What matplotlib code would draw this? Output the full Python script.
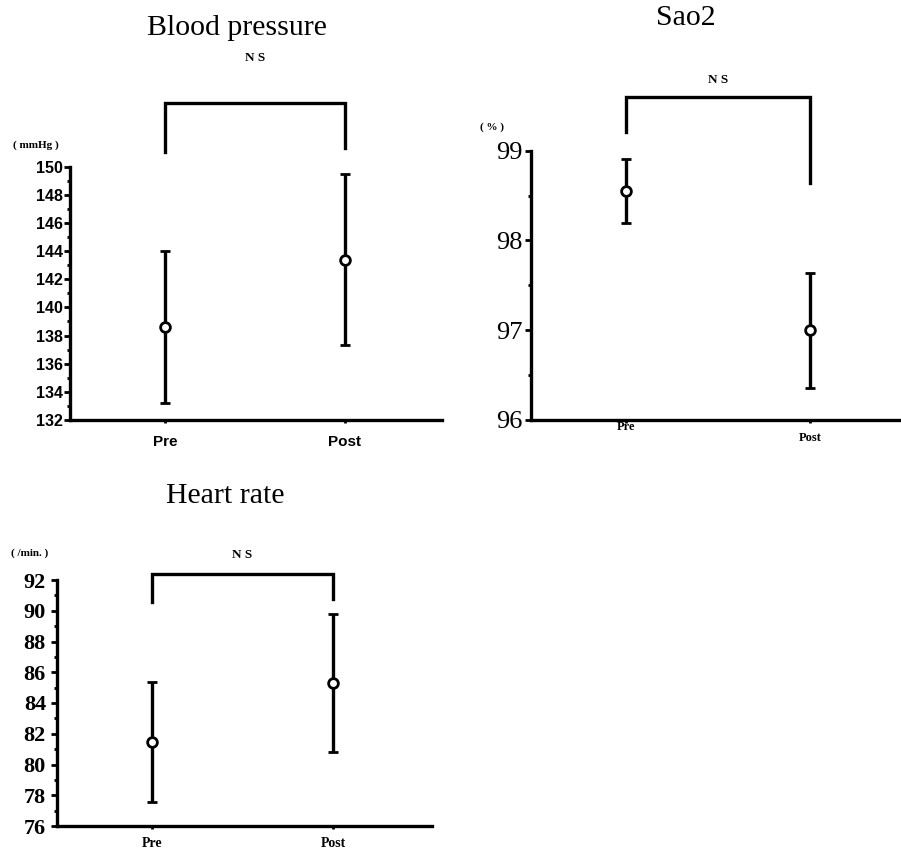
import matplotlib
matplotlib.use("Agg")
import matplotlib.pyplot as plt
import numpy as np
from matplotlib.transforms import blended_transform_factory

# ---- data ----
groups = ["Pre", "Post"]

bp_mean = [138.6, 143.4]
bp_err = [5.4, 6.1]
bp_ticks = [132, 134, 136, 138, 140, 142, 144, 146, 148, 150]

sao2_mean = [98.55, 97.0]
sao2_err = [0.36, 0.64]
sao2_ticks = [96, 97, 98, 99]

hr_mean = [81.45, 85.3]
hr_err = [3.9, 4.5]
hr_ticks = [76, 78, 80, 82, 84, 86, 88, 90, 92]

fig = plt.figure(figsize=(9.01, 8.52), dpi=100)
W, H = 901, 852

def add_axes(l, r, t, b):
    return fig.add_axes([l / W, 1 - b / H, (r - l) / W, (b - t) / H])

SERIF = "Liberation Serif"
SANS = "Liberation Sans"
LW = 2.4

def style(ax, ylim, xlim, ticks, minor_step):
    ax.set_ylim(*ylim)
    ax.set_xlim(*xlim)
    for s in ["top", "right"]:
        ax.spines[s].set_visible(False)
    for s in ["left", "bottom"]:
        ax.spines[s].set_linewidth(LW)
    ax.set_yticks(ticks)
    ax.set_yticks(np.arange(ylim[0], ylim[1] + 1e-9, minor_step), minor=True)
    ax.tick_params(axis="y", which="major", direction="out", length=4, width=2)
    ax.tick_params(axis="y", which="minor", direction="out", length=2.5, width=2)
    ax.set_xticks([0, 1])
    ax.tick_params(axis="x", which="major", direction="out", length=2, width=2)

def draw(ax, mean, err):
    ax.errorbar([0, 1], mean, yerr=err, fmt="o", color="black", ecolor="black",
                elinewidth=LW, capsize=3.5, capthick=2.5, markersize=7,
                markerfacecolor="white", markeredgecolor="black",
                markeredgewidth=2, zorder=3, clip_on=False)

def bracket(ax, top, left_bot, right_bot, ns_y):
    ax.plot([0, 0, 1, 1], [left_bot, top, top, right_bot], color="black",
            lw=LW, clip_on=False, solid_joinstyle="miter")
    ax.text(0.5, ns_y, "N S", ha="center", va="center", fontsize=9.5,
            fontweight="bold", family=SERIF, clip_on=False)

# ---- Blood pressure ----
ax1 = add_axes(70, 442, 166.7, 420)
style(ax1, (132, 150), (-0.528, 1.539), bp_ticks, 1)
draw(ax1, bp_mean, bp_err)
ax1.set_yticklabels([str(t) for t in bp_ticks], family=SANS, fontweight="bold",
                    fontsize=11.5)
ax1.tick_params(axis="y", pad=1)
ax1.set_xticklabels(groups, family=SANS, fontweight="bold", fontsize=11)
ax1.tick_params(axis="x", pad=9)
bracket(ax1, 154.53, 151.05, 151.3, 157.7)
fig.text(237 / W, 1 - 28 / H, "Blood pressure", ha="center", va="center",
         family=SERIF, fontsize=21.5)
fig.text(36 / W, 1 - 145 / H, "( mmHg )", ha="center", va="center",
         family=SERIF, fontweight="bold", fontsize=8)

# ---- Sao2 ----
ax2 = add_axes(531, 901, 150.7, 420)
style(ax2, (96, 99), (-0.516, 1.495), sao2_ticks, 0.5)
draw(ax2, sao2_mean, sao2_err)
ax2.set_yticklabels([str(t) for t in sao2_ticks], family=SERIF, fontsize=19)
ax2.tick_params(axis="y", pad=2)
ax2.set_xticklabels(["", ""])
tr2 = blended_transform_factory(ax2.transData, fig.transFigure)
ax2.text(0, 1 - 427 / H, groups[0], transform=tr2, ha="center", va="center",
         family=SERIF, fontweight="bold", fontsize=9)
ax2.text(1, 1 - 438 / H, groups[1], transform=tr2, ha="center", va="center",
         family=SERIF, fontweight="bold", fontsize=9)
bracket(ax2, 99.6, 99.21, 98.64, 99.79)
fig.text(686 / W, 1 - 18 / H, "Sao2", ha="center", va="center",
         family=SERIF, fontsize=21.5)
fig.text(492 / W, 1 - 127 / H, "( % )", ha="center", va="center",
         family=SERIF, fontweight="bold", fontsize=8)

# ---- Heart rate ----
ax3 = add_axes(57, 432, 580, 826)
style(ax3, (76, 92), (-0.525, 1.547), hr_ticks, 1)
draw(ax3, hr_mean, hr_err)
ax3.set_yticklabels([str(t) for t in hr_ticks], family=SERIF, fontweight="bold",
                    fontsize=16)
ax3.tick_params(axis="y", pad=4)
ax3.set_xticklabels(groups, family=SERIF, fontweight="bold", fontsize=10)
ax3.tick_params(axis="x", pad=6)
bracket(ax3, 92.39, 90.57, 90.76, 93.63)
fig.text(225 / W, 1 - 496 / H, "Heart rate", ha="center", va="center",
         family=SERIF, fontsize=21.5)
fig.text(30 / W, 1 - 553 / H, "( /min. )", ha="center", va="center",
         family=SERIF, fontweight="bold", fontsize=8)

fig.savefig("out.png", dpi=100)
